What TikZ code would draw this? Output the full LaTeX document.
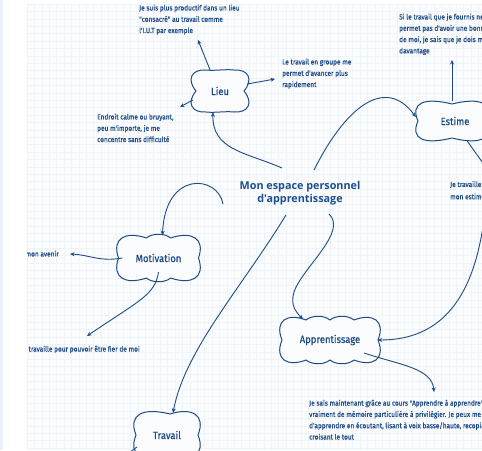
\documentclass[tikz,border=0pt]{standalone}
\usepackage{fontspec}
\setmainfont{Open Sans}
\newfontfamily\hand[FakeStretch=0.88,FakeBold=0.6]{Fira Sans}
\newfontfamily\labelfont[FakeStretch=0.9,FakeBold=0.6]{Fira Sans}
\newfontfamily\titlefont{Open Sans}
\usetikzlibrary{arrows.meta}
\definecolor{ink}{HTML}{1E4B86}
\definecolor{titleink}{HTML}{1D4E91}
\definecolor{lav}{HTML}{EEF0F7}
\definecolor{paper}{HTML}{FAFCFE}
\definecolor{gridc}{HTML}{EFF4F9}
\tikzset{
  cloudlabel/.style={rectangle, text=ink, inner sep=0pt,
    font=\labelfont\fontsize{10.5}{12}\selectfont},
  cloudline/.style={draw=ink, fill=paper, line width=1pt, line join=round},
  handtext/.style={text=ink, align=left, inner sep=0pt,
    font=\hand\fontsize{7.4}{11.3}\selectfont},
  conn/.style={draw=ink, line width=0.9pt, -{Stealth[length=4.5pt,width=4pt]}},
  plainconn/.style={draw=ink, line width=0.9pt},
}
\begin{document}
\begin{tikzpicture}[x=1pt,y=-1pt]
\useasboundingbox (0,0) rectangle (482,450);
\fill[white] (0,0) rectangle (482,450);
\fill[lav] (0,0) rectangle (3,450);
\fill[paper] (27,4) rectangle (482,450);
\foreach \i in {0,...,61} {\draw[gridc, line width=0.35pt] ({27+7.4*\i},4) -- ({27+7.4*\i},450);}
\foreach \j in {0,...,60} {\draw[gridc, line width=0.35pt] (27,{4+7.4*\j}) -- (482,{4+7.4*\j});}
\begin{scope}
\clip (27,4) rectangle (482,450);
% cloud outlines
\path[cloudline, shift={(220,91)}]
  (-24,0) .. controls (-34,-12) and (-28,-22) .. (-14,-21)
  .. controls (-5,-20) and (5,-22) .. (14,-21)
  .. controls (28,-22) and (34,-12) .. (24,0)
  .. controls (34,12) and (28,22) .. (14,21)
  .. controls (5,20) and (-5,22) .. (-14,21)
  .. controls (-28,22) and (-34,12) .. (-24,0) -- cycle;
\path[cloudline, shift={(452,121)}]
  (-34,0) .. controls (-42,-18) and (-28,-24) .. (0,-17)
  .. controls (28,-24) and (42,-18) .. (34,0)
  .. controls (42,18) and (28,24) .. (0,17)
  .. controls (-28,24) and (-42,18) .. (-34,0) -- cycle;
\path[cloudline, shift={(158.5,258)}]
  (-40,0) .. controls (-47,-20) and (-33,-27) .. (-12,-20)
  .. controls (-7,-25) and (7,-25) .. (12,-20)
  .. controls (33,-27) and (47,-20) .. (40,0)
  .. controls (47,20) and (33,27) .. (12,20)
  .. controls (7,25) and (-7,25) .. (-12,20)
  .. controls (-33,27) and (-47,20) .. (-40,0) -- cycle;
\path[cloudline, shift={(330,340)}]
  (-48,0) .. controls (-56,-20) and (-42,-27) .. (-24,-20)
  .. controls (-18,-25) and (-6,-25) .. (0,-20)
  .. controls (6,-25) and (18,-25) .. (24,-20)
  .. controls (42,-27) and (56,-20) .. (48,0)
  .. controls (56,20) and (42,27) .. (24,20)
  .. controls (18,25) and (6,25) .. (0,20)
  .. controls (-6,25) and (-18,25) .. (-24,20)
  .. controls (-42,27) and (-56,20) .. (-48,0) -- cycle;
\path[cloudline, shift={(167,435)}]
  (-31,0) .. controls (-39,-20) and (-25,-28) .. (3,-21)
  .. controls (25,-28) and (39,-20) .. (31,0)
  .. controls (39,20) and (25,28) .. (0,21)
  .. controls (-25,28) and (-39,20) .. (-31,0) -- cycle;
% central title
\node[text=titleink, align=center, inner sep=0pt, font=\titlefont\bfseries\fontsize{10.8}{13.5}\selectfont] (title) at (300,193) {Mon espace personnel\\d'apprentissage};
% cloud labels (named nodes sized as the clouds)
\node[cloudlabel, minimum width=54, minimum height=42] (lieu) at (220,91) {Lieu};
\node[cloudlabel, minimum width=72, minimum height=39] (estime) at (452,121) {\hspace{6pt}Estime};
\node[cloudlabel, minimum width=84, minimum height=45] (motiv) at (158.5,258) {Motivation};
\node[cloudlabel, minimum width=101, minimum height=45] (appr) at (330,340) {Apprentissage};
\node[cloudlabel, minimum width=64, minimum height=44] (travail) at (167,435) {Travail};
% texts
\node[handtext, anchor=north west] (tlt) at (139,4.5) {Je suis plus productif dans un lieu\\"consacré" au travail comme\\l'I.U.T par exemple};
\node[handtext, anchor=north west] (tll) at (97,113.5) {Endroit calme ou bruyant,\\peu m'importe, je me\\concentre sans difficulté};
\node[handtext, anchor=north west] (tlr) at (282,58.5) {Le travail en groupe me\\permet d'avancer plus\\rapidement};
\node[handtext, anchor=north west] (tet) at (399,13.5) {Si le travail que je fournis ne me\\permet pas d'avoir une bonne estime\\de moi, je sais que je dois me donner\\davantage};
\node[handtext, anchor=north west, font=\hand\fontsize{7.4}{12.3}\selectfont] (ter) at (450,181) {Je travaille\\mon estime};
\node[handtext, anchor=north east] (tml) at (59,250.5) {mon avenir};
\node[handtext, anchor=north east] (tmb) at (140,345.5) {Je travaille pour pouvoir être fier de moi};
\node[handtext, anchor=north west] (tap) at (309,399.5) {Je sais maintenant grâce au cours "Apprendre à apprendre" qu'il n'y a pas\\vraiment de mémoire particulière à privilégier. Je peux me permettre\\d'apprendre en écoutant, lisant à voix basse/haute, recopiant,\\croisant le tout};
% free ends
\coordinate (s1) at (282,168);
\coordinate (s2) at (314,170);
\coordinate (s3) at (329,214);
\coordinate (s4) at (286,215);
\coordinate (s5) at (223,204);
\coordinate (e1) at (198,40);
\coordinate (e2) at (180,107);
\coordinate (e3) at (275,79);
\coordinate (e4) at (452,60);
\coordinate (e5) at (490,173);
\coordinate (e6) at (70,254);
\coordinate (e7) at (87,336);
\coordinate (e8) at (434,392);
\coordinate (s6) at (486,200);
\coordinate (e9) at (122,458);
% connectors
\draw[conn] (s1) .. controls (245,152) and (212,150) .. ([xshift=-7pt]lieu.south);
\draw[conn] ([xshift=-10pt]lieu.north) -- (e1);
\draw[conn] ([yshift=-9pt]lieu.west) -- (e2);
\draw[conn] ([yshift=7pt]lieu.east) -- (e3);
\draw[conn] (s2) .. controls (345,108) and (385,75) .. ([yshift=4pt]estime.west);
\draw[conn] (estime.north) -- (e4);
\draw[plainconn] ([xshift=15pt]estime.south) -- (e5);
\draw[conn] (s6) .. controls (478,300) and (440,340) .. ([xshift=-3pt]appr.east);
\draw[conn] (s3) .. controls (348,232) and (302,268) .. (294,292) .. controls (290,305) and (296,312) .. ([xshift=-27pt,yshift=-2pt]appr.north);
\draw[conn] (s4) .. controls (240,290) and (185,350) .. ([xshift=6pt]travail.north);
\draw[conn] (s5) .. controls (218,175) and (165,170) .. ([xshift=4pt]motiv.north);
\draw[conn] ([xshift=6pt]motiv.west) .. controls (100,262) and (90,255) .. (e6);
\draw[conn] ([shift={(0,14)}]motiv.center) .. controls (155,295) and (140,300) .. (e7);
\draw[conn] ([shift={(34,13)}]appr.center) .. controls (400,365) and (432,368) .. (e8);
\draw[plainconn] ([shift={(-30,12)}]travail.center) -- (e9);
\end{scope}
\end{tikzpicture}
\end{document}
